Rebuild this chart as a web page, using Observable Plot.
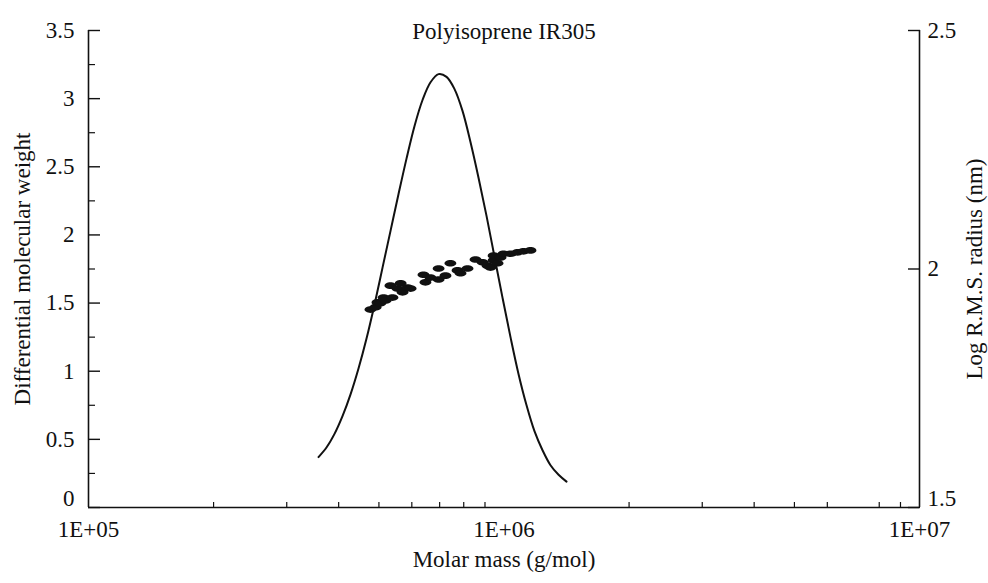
<!DOCTYPE html>
<html>
<head>
<meta charset="utf-8">
<script src="https://cdn.jsdelivr.net/npm/d3@7"></script>
<script src="https://cdn.jsdelivr.net/npm/@observablehq/plot@0.6"></script>
<style>
  html, body { margin: 0; padding: 0; background: #fff; }
</style>
</head>
<body>
<div id="chart"></div>
<script>
const titleText = "Polyisoprene IR305";
const xLabel = "Molar mass (g/mol)";
const yLeftLabel = "Differential molecular weight";
const yRightLabel = "Log R.M.S. radius (nm)";

// Differential molecular weight distribution (solid line)
const curveMass = [357700, 373900, 390900, 408600, 427200, 446500, 466800, 488000, 510100, 533200,
  557400, 582600, 609100, 636700, 665500, 695700, 727200, 760200, 794600, 830700, 868300, 907700,
  948700, 991700, 1036700, 1083700, 1133000, 1184000, 1238000, 1294000, 1353000, 1414000];
const curveDiff = [0.37, 0.44, 0.54, 0.67, 0.83, 1.02, 1.24, 1.49, 1.76, 2.03,
  2.30, 2.56, 2.80, 2.99, 3.12, 3.18, 3.16, 3.07, 2.91, 2.68, 2.42, 2.14,
  1.84, 1.54, 1.25, 0.98, 0.75, 0.56, 0.42, 0.31, 0.24, 0.19];

// Log RMS radius points (right axis)
const rmsMass = [477000, 491000, 496000, 504000, 513000, 519000, 539000, 533000, 554000, 570000, 586000, 596000, 564000,
  640000, 647000, 665000, 696000, 696000, 723000, 743000, 773000, 786000, 817000,
  854000, 888000, 913000, 944000, 944000, 981000, 997000, 1037000, 1078000, 1114000, 1158000, 928000, 965000];
const rmsLogR = [1.915, 1.920, 1.930, 1.928, 1.940, 1.934, 1.940, 1.965, 1.959, 1.951, 1.961, 1.959, 1.970,
  1.988, 1.972, 1.982, 2.001, 1.978, 1.986, 2.012, 1.997, 1.991, 2.001,
  2.020, 2.014, 2.007, 2.018, 2.028, 2.024, 2.032, 2.032, 2.035, 2.037, 2.039, 2.003, 2.012];

// Axes
const xTickValues = [1e5, 1e6, 1e7];
const xTickLabels = ["1E+05", "1E+06", "1E+07"];
const xMinorTicks = [2e5, 3e5, 4e5, 5e5, 6e5, 7e5, 8e5, 9e5, 2e6, 3e6, 4e6, 5e6, 6e6, 8e6, 9e6];
const yLeftTicks = [0, 0.5, 1, 1.5, 2, 2.5, 3, 3.5];
const yLeftTickLabels = ["0", "0.5", "1", "1.5", "2", "2.5", "3", "3.5"];
const yLeftMinor = [0.25, 0.75, 1.25, 1.75, 2.25, 2.75, 3.25];
const yRightDomain = [1.5, 2.5];
const yRightTicks = [1.5, 2, 2.5];
const yRightTickLabels = ["1.5", "2", "2.5"];
const yLeftDomain = [0, 3.5];

// map right-axis value to left-axis scale
const toLeft = v => (v - yRightDomain[0]) / (yRightDomain[1] - yRightDomain[0]) * (yLeftDomain[1] - yLeftDomain[0]) + yLeftDomain[0];
const rightTicksL = yRightTicks.map(toLeft);

const curve = curveMass.map((m, i) => ({m, v: curveDiff[i]}));
const pts = rmsMass.map((m, i) => ({m, r: rmsLogR[i]}));

const ellipse = {
  draw(context, size) {
    const r = Math.sqrt(size / Math.PI);
    const rx = r * 1.6, ry = r * 0.9, k = 0.5523;
    context.moveTo(rx, 0);
    context.bezierCurveTo(rx, ry * k, rx * k, ry, 0, ry);
    context.bezierCurveTo(-rx * k, ry, -rx, ry * k, -rx, 0);
    context.bezierCurveTo(-rx, -ry * k, -rx * k, -ry, 0, -ry);
    context.bezierCurveTo(rx * k, -ry, rx, -ry * k, rx, 0);
    context.closePath();
  }
};

const font = "'Liberation Serif', 'DejaVu Serif', serif";
const fs = 23;

const chart = Plot.plot({
  width: 988,
  height: 583,
  marginLeft: 88,
  marginRight: 69,
  marginTop: 30,
  marginBottom: 76,
  style: {fontFamily: font, fontSize: fs + "px", background: "#fff", color: "#111"},
  x: {type: "log", domain: [1e5, 1e7], axis: null},
  y: {domain: yLeftDomain, axis: null},
  marks: [
    // axis lines
    Plot.ruleX([1e5], {stroke: "#111", strokeWidth: 1.6}),
    Plot.ruleX([1e7], {stroke: "#111", strokeWidth: 1.6}),
    Plot.ruleY([0], {stroke: "#111", strokeWidth: 1.6}),
    // left axis: ticks, labels (the bottom label sits slightly raised, as in the original)
    Plot.axisY({ticks: yLeftTicks, tickSize: -12, tickPadding: 26, strokeWidth: 1.4, fontSize: fs,
      tickFormat: d => d === yLeftTicks[0] ? "" : yLeftTickLabels[yLeftTicks.indexOf(d)], label: null}),
    Plot.axisY({ticks: yLeftTicks.slice(0, 1), tickSize: 0, tickPadding: 14, dy: -9, fontSize: fs,
      tickFormat: d => yLeftTickLabels[yLeftTicks.indexOf(d)], label: null}),
    Plot.axisY({ticks: yLeftMinor, tickSize: -7, tickPadding: 0, strokeWidth: 1.2,
      tickFormat: () => "", label: null}),
    // right axis
    Plot.axisY({anchor: "right", ticks: rightTicksL, tickSize: -12, tickPadding: 20, strokeWidth: 1.4, fontSize: fs,
      tickFormat: d => d === rightTicksL[0] ? "" : yRightTickLabels[rightTicksL.indexOf(d)], label: null}),
    Plot.axisY({anchor: "right", ticks: rightTicksL.slice(0, 1), tickSize: 0, tickPadding: 8, dy: -9, fontSize: fs,
      tickFormat: d => yRightTickLabels[rightTicksL.indexOf(d)], label: null}),
    // bottom axis
    Plot.axisX({ticks: xTickValues, tickSize: 0, tickPadding: 13, fontSize: fs,
      tickFormat: d => xTickLabels[xTickValues.indexOf(d)], label: null}),
    Plot.axisX({ticks: xMinorTicks, tickSize: -5, tickPadding: 0, strokeWidth: 1.2,
      tickFormat: () => "", label: null}),
    // data
    Plot.line(curve, {x: "m", y: "v", stroke: "#111", strokeWidth: 2, curve: "catmull-rom"}),
    Plot.dot(pts, {x: "m", y: d => toLeft(d.r), r: 3.7, symbol: ellipse, fill: "#111", stroke: "none"}),
    // titles
    Plot.text([titleText], {frameAnchor: "top", dy: -8, text: d => d, fontSize: fs, fill: "#111"}),
    Plot.text([xLabel], {frameAnchor: "bottom", dy: 59, text: d => d, fontSize: fs, fill: "#111"}),
    Plot.text([yLeftLabel], {frameAnchor: "left", dx: -66, rotate: -90, textAnchor: "middle", text: d => d, fontSize: fs, fill: "#111"}),
    Plot.text([yRightLabel], {frameAnchor: "right", dx: 55, rotate: -90, textAnchor: "middle", text: d => d, fontSize: fs, fill: "#111"})
  ]
});
document.getElementById("chart").appendChild(chart);
</script>
</body>
</html>
